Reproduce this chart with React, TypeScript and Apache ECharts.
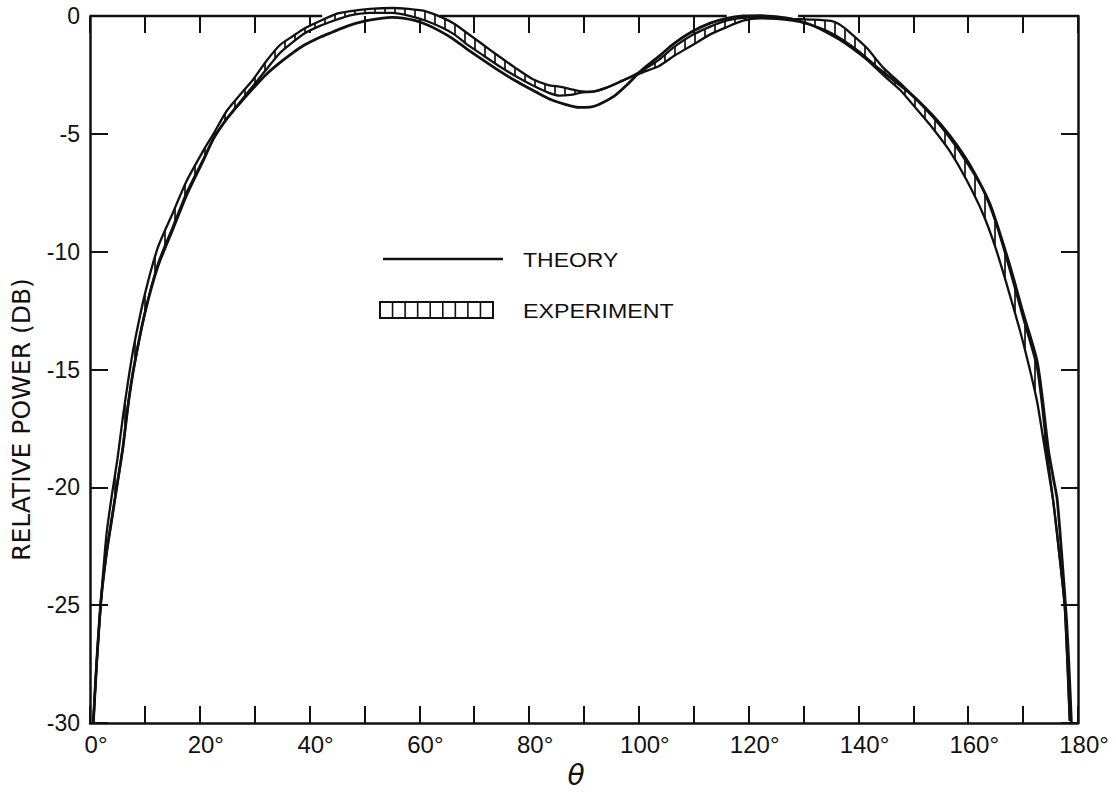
import React, { useEffect, useRef } from 'react';
import * as echarts from 'echarts';

// Theory curve (theta in degrees, relative power in dB)
const theoryAngle = [
  0.6, 1.2, 2.0, 3.0, 4.0, 5.0, 6.0, 7.0, 8.0, 10, 12.4, 15, 17.6, 20.6, 22.5, 24.9, 27.5, 29.8, 32, 34.6,
  37, 38.9, 41.9, 44.1, 47, 50.2, 53, 55.1, 57, 59.3, 61.5, 63.6, 66, 68.5, 71.5, 74.5, 77.5, 80.6, 83.5, 86.7,
  89, 91, 93, 95.5, 97.7, 100.5, 103.7, 106.5, 109.8, 113, 116, 119, 122, 125, 128.1, 131, 134, 137, 140, 143,
  146, 149, 152, 155, 158, 161, 164, 167.6, 170, 172.5, 173.5, 174.6, 175.5, 176.2, 177.1, 177.9, 178.4, 178.8,
];
const theoryDb = [
  -30, -27.5, -24.8, -22.8, -21.3, -19.8, -18.3, -16.4, -14.9, -12.6, -10.6, -9.1, -7.6, -6.15, -5.2, -4.37, -3.65, -3.05, -2.5, -1.98,
  -1.55, -1.25, -0.9, -0.69, -0.42, -0.21, -0.1, -0.06, -0.09, -0.2, -0.38, -0.62, -0.95, -1.37, -1.85, -2.32, -2.75, -3.14, -3.5, -3.76,
  -3.88, -3.87, -3.72, -3.4, -2.95, -2.3, -1.7, -1.15, -0.65, -0.3, -0.1, 0.0, 0.02, -0.03, -0.14, -0.35, -0.62, -1.0, -1.5, -2.1,
  -2.65, -3.2, -3.85, -4.6, -5.5, -6.6, -8.0, -10.6, -12.6, -14.6, -16.2, -18.4, -19.6, -20.5, -23.05, -25.6, -27.8, -30,
];

// Experiment band: upper and lower edges read at the same angles
const expAngle = [
  0.6, 1.2, 2.0, 3.0, 4.0, 5.0, 6.0, 7.0, 8.0, 10, 12.4, 15, 17.6, 20.6, 22.5, 24.9, 27.5, 29.8, 32, 34.6,
  37, 38.9, 41.9, 45, 47.2, 51, 55.1, 58, 61.2, 64.2, 66.5, 68.5, 71.5, 74.5, 77.5, 80.6, 83.5, 85.5, 87.5, 89.5,
  91.6, 94, 97.7, 100.7, 103.7, 106.5, 109.8, 113, 115.9, 119, 122, 125, 128, 131.1, 135, 136.5, 138.4, 141.5, 144.5, 147.6,
  150.6, 153.6, 156.7, 159.7, 162.7, 165, 167.6, 170, 172.5, 173.5, 174.6, 175.5, 176.7, 177.6, 178.5,
];
const expUpper = [
  -30, -27.5, -24.8, -22.0, -20.3, -18.8, -17.0, -15.4, -14.0, -11.8, -9.8, -8.4, -7.0, -5.73, -5.0, -4.03, -3.3, -2.67, -1.95, -1.23,
  -0.85, -0.55, -0.21, 0.1, 0.2, 0.3, 0.34, 0.3, 0.2, -0.07, -0.35, -0.69, -1.2, -1.71, -2.2, -2.67, -2.93, -3.0, -3.1, -3.2,
  -3.21, -3.05, -2.67, -2.3, -1.85, -1.3, -0.8, -0.45, -0.2, -0.08, -0.05, -0.08, -0.12, -0.15, -0.21, -0.35, -0.69, -1.35, -2.19, -2.85,
  -3.55, -4.3, -5.19, -6.2, -7.37, -8.75, -10.78, -12.8, -14.87, -16.6, -19.0, -20.6, -23.05, -25.1, -29.9,
];
const expLower = [
  -30, -27.5, -24.8, -22.8, -21.3, -19.8, -18.3, -16.4, -14.9, -12.6, -10.5, -9.0, -7.5, -6.1, -5.2, -4.37, -3.6, -2.94, -2.3, -1.57,
  -1.1, -0.76, -0.42, -0.15, 0.02, 0.13, 0.13, 0.02, -0.2, -0.5, -0.8, -1.17, -1.65, -2.12, -2.55, -2.94, -3.25, -3.38, -3.35, -3.25,
  -3.21, -3.05, -2.67, -2.39, -2.12, -1.68, -1.23, -0.78, -0.48, -0.2, -0.1, -0.12, -0.2, -0.35, -0.8, -1.0, -1.3, -1.85, -2.5, -3.14,
  -3.95, -4.78, -5.75, -6.96, -8.4, -9.85, -11.85, -13.85, -16.3, -17.7, -19.3, -20.6, -23.05, -25.1, -29.9,
];

// Top frame line segments (the frame is broken where the curves rise above it)
const topFrameSegments: [number, number][] = [[0, 42.3], [63.7, 116], [129, 180]];

const legendLabels = ['THEORY', 'EXPERIMENT'];
const yAxisName = 'RELATIVE POWER (DB)';
const xAxisName = 'θ';

export default function App() {
  const ref = useRef<HTMLDivElement>(null);
  useEffect(() => {
    document.body.style.margin = '0';
    const chart = echarts.init(ref.current!, null, { renderer: 'svg' });

    const hatch = document.createElement('canvas');
    hatch.width = 10;
    hatch.height = 8;
    const ctx = hatch.getContext('2d')!;
    ctx.fillStyle = '#ffffff';
    ctx.fillRect(0, 0, 10, 8);
    ctx.strokeStyle = '#000000';
    ctx.lineWidth = 1.6;
    ctx.beginPath();
    ctx.moveTo(5, 0);
    ctx.lineTo(5, 8);
    ctx.stroke();
    const pattern: any = { image: hatch, repeat: 'repeat' };

    const theoryData = theoryAngle.map((a, i) => [a, theoryDb[i]]);
    const upperData = expAngle.map((a, i) => [a, expUpper[i]]);
    const lowerData = expAngle.map((a, i) => [a, expLower[i]]);

    const topFrameData: any[] = [];
    topFrameSegments.forEach((s, i) => {
      if (i > 0) topFrameData.push([s[0] - 1, '-']);
      topFrameData.push([s[0], 0], [s[1], 0]);
    });

    const font = 'Liberation Sans, Arial, sans-serif';
    const black = '#111';

    // legend hatched box
    const boxX = 380, boxY = 302, boxW = 113, boxH = 16, cells = 9;
    const boxChildren: any[] = [
      { type: 'rect', shape: { x: boxX, y: boxY, width: boxW, height: boxH }, style: { fill: '#fff', stroke: black, lineWidth: 2 } },
    ];
    for (let i = 1; i < cells; i++) {
      const x = boxX + (boxW * i) / cells;
      boxChildren.push({ type: 'line', shape: { x1: x, y1: boxY, x2: x, y2: boxY + boxH }, style: { stroke: black, lineWidth: 1.6 } });
    }

    chart.setOption({
      animation: false,
      backgroundColor: '#fff',
      grid: { left: 90, right: 38, top: 16, bottom: 41, containLabel: false },
      xAxis: [
        {
          type: 'value',
          min: 0,
          max: 180,
          interval: 20,
          position: 'bottom',
          name: xAxisName,
          nameLocation: 'middle',
          nameGap: 8,
          nameTextStyle: { fontSize: 28, fontStyle: 'italic', fontFamily: 'DejaVu Sans', color: black, padding: [0, 16, 0, 0], verticalAlign: 'top' },
          axisLine: { show: true, onZero: false, lineStyle: { color: black, width: 2.5 } },
          axisTick: { show: true, inside: true, length: 17, lineStyle: { color: black, width: 2 } },
          minorTick: { show: true, splitNumber: 2, length: 17, lineStyle: { color: black, width: 2 } },
          axisLabel: { formatter: (v: number) => `${v}°`, fontSize: 24, fontFamily: font, color: black, margin: 9, padding: [0, 0, 0, 12] },
          splitLine: { show: false },
        },
        {
          type: 'value',
          min: 0,
          max: 180,
          interval: 10,
          position: 'top',
          axisLine: { show: false },
          axisTick: { show: true, inside: true, length: 17, lineStyle: { color: black, width: 2 } },
          axisLabel: { show: false },
          splitLine: { show: false },
        },
      ],
      yAxis: [
        {
          type: 'value',
          min: -30,
          max: 0,
          interval: 5,
          position: 'left',
          name: yAxisName,
          nameLocation: 'middle',
          nameGap: 56,
          nameTextStyle: { fontSize: 25, fontFamily: 'DejaVu Sans', color: black, padding: [0, 100, 0, 0] },
          axisLine: { show: true, onZero: false, lineStyle: { color: black, width: 2.5 } },
          axisTick: { show: true, inside: true, length: 18, lineStyle: { color: black, width: 2 } },
          axisLabel: { fontSize: 23, fontFamily: font, color: black, margin: 10 },
          splitLine: { show: false },
        },
        {
          type: 'value',
          min: -30,
          max: 0,
          interval: 5,
          position: 'right',
          axisLine: { show: true, onZero: false, lineStyle: { color: black, width: 2.5 } },
          axisTick: { show: true, inside: true, length: 17, lineStyle: { color: black, width: 2 } },
          axisLabel: { show: false },
          splitLine: { show: false },
        },
      ],
      series: [
        {
          type: 'line',
          name: 'frame',
          data: topFrameData,
          symbol: 'none',
          clip: false,
          silent: true,
          lineStyle: { color: black, width: 2.5 },
          z: 1,
        },
        {
          type: 'custom',
          name: 'EXPERIMENT band',
          data: [[0, 0]],
          clip: false,
          silent: true,
          z: 2,
          renderItem: (_params: any, api: any) => {
            const pts: number[][] = [];
            for (let i = 0; i < expAngle.length; i++) pts.push(api.coord([expAngle[i], expUpper[i]]));
            for (let i = expAngle.length - 1; i >= 0; i--) pts.push(api.coord([expAngle[i], expLower[i]]));
            return { type: 'polygon', shape: { points: pts }, style: { fill: pattern, stroke: null } };
          },
        },
        {
          type: 'line',
          name: 'EXPERIMENT upper',
          data: upperData,
          symbol: 'none',
          smooth: 0.2,
          clip: false,
          lineStyle: { color: black, width: 2.3 },
          z: 3,
        },
        {
          type: 'line',
          name: 'EXPERIMENT lower',
          data: lowerData,
          symbol: 'none',
          smooth: 0.2,
          clip: false,
          lineStyle: { color: black, width: 2.3 },
          z: 3,
        },
        {
          type: 'line',
          name: 'THEORY',
          data: theoryData,
          symbol: 'none',
          smooth: 0.25,
          clip: false,
          lineStyle: { color: black, width: 2.8 },
          z: 4,
        },
      ],
      graphic: [
        { type: 'line', shape: { x1: 383, y1: 259, x2: 503, y2: 259 }, style: { stroke: black, lineWidth: 2.5 } },
        {
          type: 'text', x: 523, y: 260, scaleX: 1.15,
          style: { text: legendLabels[0], font: `20px ${font}`, fill: black, textVerticalAlign: 'middle', verticalAlign: 'middle', textAlign: 'left' },
        },
        { type: 'group', children: boxChildren },
        {
          type: 'text', x: 523, y: 311, scaleX: 1.16,
          style: { text: legendLabels[1], font: `20px ${font}`, fill: black, textVerticalAlign: 'middle', verticalAlign: 'middle', textAlign: 'left' },
        },
      ],
    });
    return () => chart.dispose();
  }, []);
  return <div ref={ref} style={{ position: 'absolute', left: 0, top: 0, width: 1116, height: 794, background: '#fff' }} />;
}
